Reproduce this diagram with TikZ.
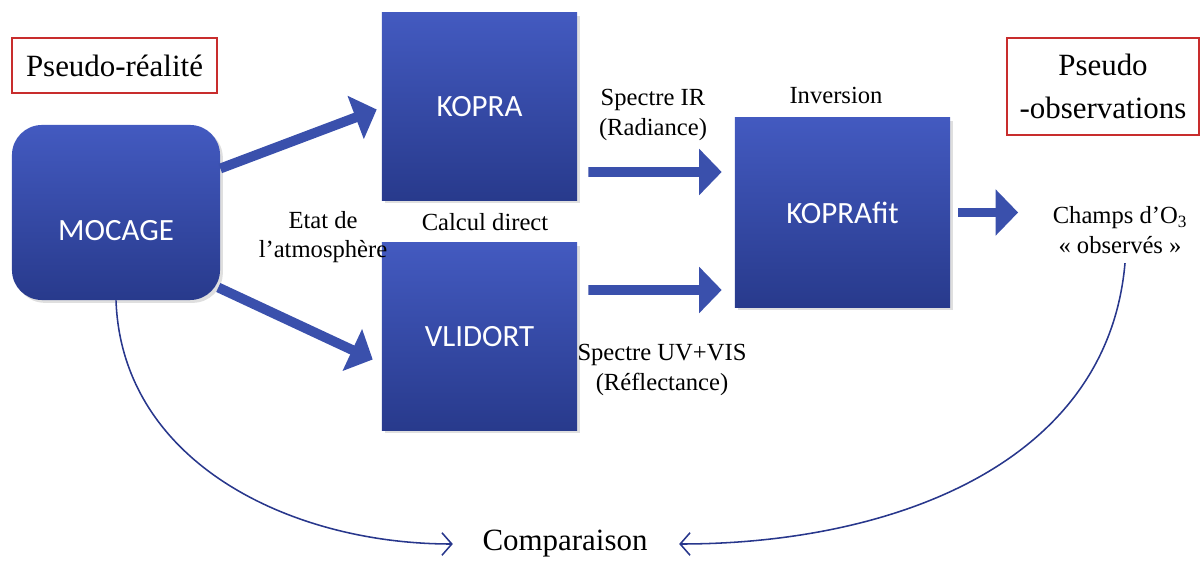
\documentclass[tikz,border=0pt]{standalone}
\usepackage{fontspec}
\setmainfont{Liberation Serif}
\newfontfamily\boxfont{Carlito}
\usetikzlibrary{arrows.meta,calc,shadows}
\definecolor{boxtop}{RGB}{67,90,192}
\definecolor{boxbot}{RGB}{40,58,140}
\definecolor{arrowblue}{RGB}{58,80,172}
\definecolor{curveblue}{RGB}{40,55,140}
\definecolor{framered}{RGB}{200,45,45}

\begin{document}
\begin{tikzpicture}[x=0.025cm,y=0.025cm,
  model/.style={top color=boxtop,bottom color=boxbot,text=white,font=\boxfont\fontsize{22}{26}\selectfont,inner sep=0pt,drop shadow={opacity=.25,shadow xshift=2pt,shadow yshift=-2pt}},
  modeltext/.style={text=white,font=\boxfont\fontsize{22}{26}\selectfont,inner sep=0pt},
  title/.style={draw=framered,line width=.8pt,font=\fontsize{22}{30}\selectfont,align=center,inner sep=0pt},
  lab/.style={font=\fontsize{17.5}{21}\selectfont,align=center,inner sep=1pt},
  fat/.style={draw=arrowblue,line width=7pt,-{Triangle[length=16pt,width=32pt]}},
  thin/.style={draw=curveblue,line width=1.1pt,-{Straight Barb[length=7pt,width=16pt]}}]
\useasboundingbox(0,0)rectangle(1201,560);
\node[title,minimum width=5.125cm,minimum height=1.375cm](real)at(114.5,494.5){Pseudo-réalité};
\node[title,minimum width=4.8cm,minimum height=2.425cm](obs)at(1103,473.5){Pseudo\\-observations};
\node[model,rounded corners=0.75cm,minimum width=5.2cm,minimum height=4.375cm](mocage)at(116,347.5){};
\node[modeltext](mocagetxt)at($(mocage.center)+(0,-18)$){MOCAGE};
\node[model,minimum width=4.875cm,minimum height=4.675cm](kopra)at(479.5,453.5){KOPRA};
\node[model,minimum width=4.875cm,minimum height=4.675cm](vlidort)at(479.5,223.5){VLIDORT};
\node[model,minimum width=5.375cm,minimum height=4.725cm](koprafit)at(842.5,347.5){KOPRAfit};
\node[lab](etat)at(323,323){Etat de\\l’atmosphère};
\node[lab](direct)at(485,338){Calcul direct};
\node[lab](ir)at(653,445){Spectre IR\\(Radiance)};
\node[lab](inv)at(836,465){Inversion};
\node[lab](uv)at(662,190){Spectre UV+VIS\\(Réflectance)};
\node[lab](champs)at(1120,330){Champs d’O\textsubscript{3}\\« observés »};
\node[font=\fontsize{22}{26}\selectfont,inner sep=1pt](comp)at(565,16){Comparaison};
\draw[fat]($(mocage.east)+(0,44)$)--($(kopra.west)+(-5,-3)$);
\draw[fat]($(mocage.east)+(-2,-75)$)--($(vlidort.west)+(-9,-23)$);
\draw[fat]($(kopra.east)+(11,-65.5)$)--($(koprafit.west)+(-13,40.5)$);
\draw[fat]($(vlidort.east)+(11,46.5)$)--($(koprafit.west)+(-13,-77.5)$);
\draw[fat]($(koprafit.east)+(8,0)$)--($(champs.west|-koprafit.east)+(-33,0)$);
\draw[thin](mocage.south)to[out=-88,in=180]($(comp.west)+(-28,0)$);
\draw[thin]($(champs.south)+(5,-8)$)to[out=-95,in=0]($(comp.east)+(30,0)$);
\end{tikzpicture}
\end{document}
